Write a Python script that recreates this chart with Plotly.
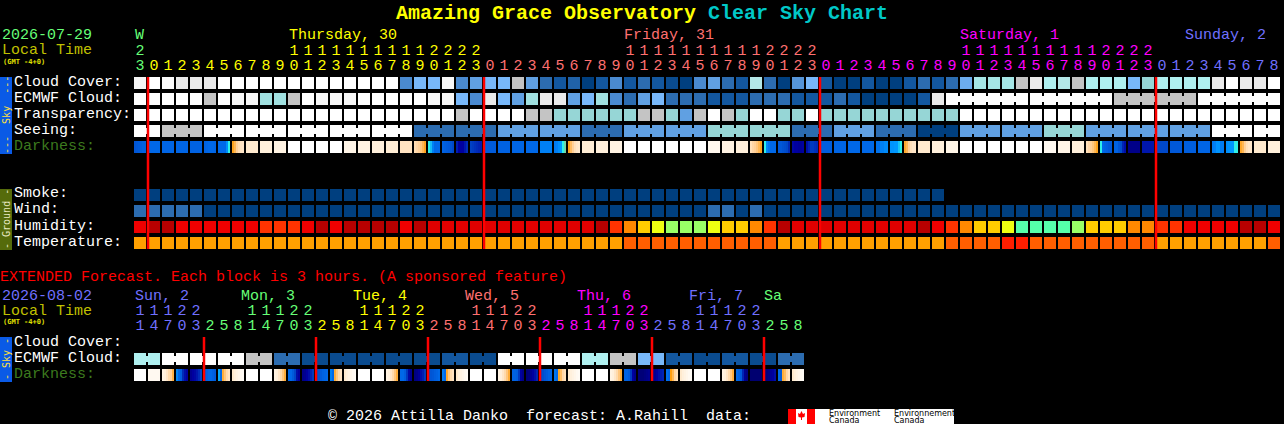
import plotly.graph_objects as go

W, H = 1284, 424

# levels: 0 = darkest blue ... 10 = white
CLOUD_COLORS = ["#003F7F", "#13579F", "#2C6CB0", "#4A8AD0", "#60A0E2", "#78B8FA",
                "#96D6D6", "#AFF0F0", "#C4C4C4", "#EAEAEA", "#FFFFFF"]
HUM_COLORS = ["#B80000", "#E00000", "#F00000", "#FF3300", "#FF8800", "#FFCC00",
              "#EEFF11", "#99FF66", "#55FFAA"]
TEMP_COLORS = ["#FFA000", "#FF5E00", "#FF1E00"]
DARK_STOPS = ["#000050", "#0000A0", "#0048C8", "#0068E8", "#0098FF", "#30F0E8",
              "#FF9E10", "#FFD098", "#FFF0DC", "#FFFFFF"]

cloud = [9.5, 10, 9.8, 9, 9, 9, 10, 10, 10, 10, 10, 10, 10, 10, 10, 10, 10, 10, 10, 3, 5,
         5, 9.6, 3, 4, 5, 5, 8, 4, 2, 1, 1.5, 0, 1, 3, 1, 2, 1, 0.5, 0, 3, 4, 2, 1, 7.2, 2, 0, 3.5, 5,
         1, 0, 0, 1, 0, 0, 1, 2, 1, 2, 4.5, 6.6, 6.6, 6.6, 8, 9, 7, 7.2, 8, 7, 7, 7, 5, 6, 7, 7, 7, 7,
         9, 10, 9, 9, 10]
ecmwf = [10, 10, 10, 10, 10, 8, 10, 9.6, 9.6, 6.4, 6.4, 8, 10, 9.6, 9.6, 9.6, 10, 10, 10, 10, 10,
         9.6, 9.6, 5, 3, 9, 5, 4, 6.4, 9, 9, 4, 5, 6.4, 3, 2, 4, 5, 2, 2, 2, 1, 1, 1, 2, 2, 2, 1, 1, 1,
         2, 1, 0, 0, 0, 0, 1, 9, 10, 10, 10, 10, 10, 10, 10, 10, 10, 10, 10, 10, 8, 8, 8, 8, 8, 8,
         10, 10, 10, 10, 10, 10]
transparency = [10] * 23 + [8, 10, 10, 10, 10, 8, 8, 6, 6, 6, 6, 6, 6, 8, 8, 6, 4, 8, 10, 8, 6, 10, 10,
                            6, 6, 10, 6, 6, 6, 6, 6, 6, 6, 6, 6, 6] + [10] * 23
seeing = [10, 10, 8, 8, 8, 10, 10, 10, 10, 10, 10, 10, 10, 10, 10, 10, 10, 10, 10, 10,
          2, 2, 2, 2, 2, 2, 4, 4, 4, 4, 4, 4, 2, 2, 2, 4, 4, 4, 4, 4, 4, 6, 6, 6, 6, 6, 6, 2, 2, 2,
          4, 4, 4, 2, 2, 2, 0, 0, 0, 4, 4, 4, 4, 4, 4, 6, 6, 6, 4, 4, 4, 4, 4, 4, 4, 4, 4,
          10, 10, 10, 10, 10]

# a number is a flat block, a tuple is the colour run across one block
darkness = [(2.4, 2.5, 2.6, 2.7, 2.8, 2.8), 3, 2.9, 2.9, 2.8, (2.8, 2.9, 3, 3, 3, 2.9),
            (3, 3, 3, 3, 3.8, 5), (6.1, 6.5, 7, 7.4, 7.6, 7.7), 7.8, 8, 8.2, 9, 9, 9, 9, 8.3, 8.2, 8, 7.9, 7.6,
            (7.4, 7.2, 7, 6.8, 6.5, 6.1), (5, 4.4, 3.5, 3, 3, 3),
            (2.8, 2.7, 2.6, 2.5, 2.3, 2), (1.4, 1, 1, 1, 1.3, 1.6), (1.9, 1.8, 1.7, 1.6, 1.5, 1.4),
            2.6, 2.8, 2.9, 3, 3.5, (3.4, 3.5, 3.8, 4, 5, 5.3), (6.1, 6.6, 7, 7.5, 7.7, 7.8),
            7.9, 8, 8.2, 9, 9, 9, 9, 9, 9, 8.5, 8.2, 8, (7.5, 7.2, 7, 6.8, 6.5, 6.1),
            (5, 3.6, 3.2, 3, 3, 3), (2.5, 2.5, 2.3, 2.2, 2, 1.6), (1.1, 1, 1, 0.9, 0.9, 1),
            (1.2, 1.5, 1.8, 1.8, 1.7, 1.6), 2.7, 2.9, 3, 3, (3.2, 3.2, 3.5, 3.5, 3.7, 3.7),
            (3.9, 3.9, 4, 4, 4.5, 5), (6.2, 6.5, 7, 7.5, 7.7, 7.7), 7.8, 8, 8.3, 9, 9, 9, 9, 9, 9,
            8.6, 8.3, 8, (7.5, 7.2, 7, 6.8, 6.5, 6.1), (5, 3, 2.8, 2.7, 2.5, 2.5),
            (2.8, 2.8, 2.4, 2.2, 1.5, 1.2), 0.7, 1.3, 2, 2.5, 2.7, 2.9,
            (3.4, 3.5, 3.9, 3.9, 3.4, 3.4), (3.8, 3.9, 4, 4, 5, 5), (6.2, 6.5, 7, 7.5, 7.7, 7.7), 7.8, 8]

smoke = [0] * 58 + [None] * 24
wind = [2, 2, 2, 2, 2] + [0] * 36 + [2, 2, 0, 2] + [0] * 37
humidity = [2, 0, 0, 2, 2, 2, 2, 2, 2, 3, 3, 3, 2, 0, 2, 0, 0, 0, 0, 2, 0, 1,
            1, 1, 1, 1, 1, 1, 1, 1, 1, 1, 1, 0, 3, 4, 5, 6, 7, 7, 7, 6, 5, 5, 4, 3, 0, 1, 1, 1, 1, 1,
            1, 1, 1, 1, 0, 2, 3, 4, 5, 5, 6, 8, 8, 8, 8, 7, 5, 5, 5, 4, 4, 3, 3, 2, 2, 2, 2, 0, 0, 2]
temperature = [0] * 35 + [1] * 11 + [0] * 12 + [1] * 4 + [2, 2] + [1] * 9 + [0] * 8 + [1]

# extended forecast, one value per 6 hour pair
ext_ecmwf = [7, 10, 10, 10, 8, 2, 0.5, 0.5, 0.5, 0.5, 0.5, 1, 0.5, 10, 10, 10, 7, 8, 5, 1, 0.5, 1, 0.5, 2]
ext_darkness = [9, 8.6, (8.2, 8, 7.7, 7.3, 7, 6.4), (3.6, 3, 2.7, 1.6, 1.2, 1), (0.8, 1, 1.1, 1.3, 1.6, 2),
                (2.5, 2.8, 3, 3, 2.8, 2.6), (4.2, 3, 6.3, 6.8, 7.3, 7.6), (7.8, 8, 8.2, 8.4, 8.6, 8.7),
                9, 9, (8.2, 8, 7.7, 7.3, 6.8, 6.3), (3, 3, 2.6, 2, 1.2, 1), (0.7, 0.8, 1, 1.2, 1.5, 1.8),
                (2.2, 2.4, 2.6, 2.8, 2.9, 3), (3.5, 3, 6.3, 6.8, 7.3, 7.6), (7.8, 8, 8.2, 8.4, 8.6, 8.7),
                9, 9, (8.2, 8, 7.7, 7.3, 6.8, 6.3), (3, 3, 2.7, 1.8, 1.1, 0.8), (0.6, 0.7, 0.9, 1.2, 1.4, 1.8),
                (2.2, 2.4, 2.5, 2.7, 2.8, 3), (3.4, 3, 6.2, 6.8, 7.3, 7.6), (7.8, 8, 8.2, 8.4, 8.6, 8.7),
                9, 9, (8.2, 8, 7.7, 7.3, 6.8, 6.3), (2.8, 2.8, 2.7, 1.8, 1, 0.7), (0.5, 0.6, 0.8, 1, 1.2, 1.5),
                (2, 2.2, 2.4, 2.6, 2.8, 2.9), (3.3, 3, 6.2, 6.6, 7.2, 7.5), (7.8, 8, 8.2, 8.4, 8.6, 8.7),
                9, 9, (8.2, 8, 7.7, 7.3, 6.8, 6.3), (2.8, 2.8, 2.6, 1.8, 1, 0.7), (0.5, 0.5, 0.5, 0.6, 0.7, 0.8),
                (0.7, 0.8, 1, 1.2, 1.4, 1.5), (3.2, 3, 6, 6.5, 7.2, 7.5), (7.8, 8, 8.2, 8.4, 8.6, 8.7),
                9, 9, (8.2, 8, 7.7, 7.3, 6.8, 6.3), (3, 2.8, 2.6, 1.5, 0.8, 0.6), 0.4, (0.5, 0.6, 0.7, 0.9, 1, 1.2),
                (3, 2.5, 6.3, 6.6, 7.2, 7.6), (7.8, 8, 8.2, 8.4, 8.6, 8.7)]

# hour ticks
GREEN, YELLOW, PINK, MAGENTA, BLUE = "#66FF77", "#FFFF00", "#FF7070", "#FF00FF", "#7070FF"
hours = [23] + list(range(24)) * 3 + list(range(9))
hour_colors = [GREEN] + [YELLOW] * 24 + [PINK] * 24 + [MAGENTA] * 24 + [BLUE] * 9
ext_hours = [11, 14, 17, 20, 23] + [2, 5, 8, 11, 14, 17, 20, 23] * 5 + [2, 5, 8]
ext_colors = [BLUE] * 5 + [GREEN] * 8 + [YELLOW] * 8 + [PINK] * 8 + [MAGENTA] * 8 + [BLUE] * 8 + [GREEN] * 3
midnights = [1, 25, 49, 73]
ext_midnights = [5, 13, 21, 29, 37, 45]

ROW_CLOUD, ROW_ECMWF, ROW_TRANS, ROW_SEEING, ROW_DARK = 0, 1, 2, 3, 4
ROW_SMOKE, ROW_WIND, ROW_HUM, ROW_TEMP = 7, 8, 9, 10
ROW_EXT_CLOUD, ROW_EXT_ECMWF, ROW_EXT_DARK = 16.25, 17.25, 18.25
MONO = "Liberation Mono"

cols = list(range(len(hours)))
ext_cols = list(range(len(ext_hours)))


def scale(colors):
    return [[i / (len(colors) - 1), c] for i, c in enumerate(colors)]


def blocks(x, y, z, colors, xgap=2, ygap=4):
    return go.Heatmap(x=x, y=y, z=z, colorscale=scale(colors), zmin=0, zmax=len(colors) - 1,
                      showscale=False, xgap=xgap, ygap=ygap, hoverinfo="skip")


def gradient(values, row):
    # 2px slices per block, the seventh slice is the gap between blocks
    xs, zs = [], []
    for i, v in enumerate(values):
        run = v if isinstance(v, tuple) else (v,) * 6
        for k in range(7):
            xs.append(i + (2 * k - 5) / 14)
            zs.append(run[k] if k < 6 else None)
    return go.Heatmap(x=xs, y=[row], z=[zs], colorscale=scale(DARK_STOPS), zmin=0, zmax=9,
                      showscale=False, ygap=4, hoverinfo="skip")


fig = go.Figure()
fig.add_trace(blocks(cols, [ROW_CLOUD, ROW_ECMWF, ROW_TRANS, ROW_SEEING],
                     [cloud, ecmwf, transparency, seeing], CLOUD_COLORS))
fig.add_trace(blocks(cols, [ROW_SMOKE, ROW_WIND], [smoke, wind], CLOUD_COLORS))
fig.add_trace(blocks(cols, [ROW_HUM], [humidity], HUM_COLORS))
fig.add_trace(blocks(cols, [ROW_TEMP], [temperature], TEMP_COLORS))
fig.add_trace(gradient(darkness, ROW_DARK))

# the 3 hourly rows are joined by a short bridge over the gap
see_join = [seeing[i] if (i - 1) % 3 != 0 else None for i in cols[:-1]]
ec_join = [ecmwf[i] if i >= 58 and (i - 57) % 6 != 0 else None for i in cols[:-1]]
join_x = [c + 0.5 for c in cols[:-1]]
fig.add_trace(blocks(join_x, [ROW_SEEING], [see_join], CLOUD_COLORS, xgap=12, ygap=10))
fig.add_trace(blocks(join_x, [ROW_ECMWF], [ec_join], CLOUD_COLORS, xgap=12, ygap=10))

ext_row = [v for v in ext_ecmwf for _ in (0, 1)]
fig.add_trace(blocks(ext_cols, [ROW_EXT_ECMWF], [ext_row], CLOUD_COLORS))
ext_join = [ext_row[i] if i % 2 == 0 else None for i in ext_cols[:-1]]
fig.add_trace(blocks([c + 0.5 for c in ext_cols[:-1]], [ROW_EXT_ECMWF], [ext_join], CLOUD_COLORS, xgap=12, ygap=10))
fig.add_trace(gradient(ext_darkness, ROW_EXT_DARK))


def add_lines(where, top, bottom):
    xs, ys = [], []
    for c in where:
        xs += [c - 3 / 7, c - 3 / 7, None]
        ys += [top, bottom, None]
    fig.add_trace(go.Scatter(x=xs, y=ys, mode="lines", line=dict(color="#FF0000", width=2.5), hoverinfo="skip"))


add_lines(midnights, ROW_CLOUD - 0.375, ROW_TEMP + 0.375)
add_lines(ext_midnights, ROW_EXT_CLOUD - 0.375, ROW_EXT_DARK + 0.375)


def digits(x, y, text, colors):
    fig.add_trace(go.Scatter(x=x, y=y, text=text, mode="text", textposition="middle center",
                             textfont=dict(family=MONO, size=15, color=colors), hoverinfo="skip"))


ones_y, tens_y = -1.07, -2.0
digits(cols, [ones_y] * len(cols), [str(h % 10) for h in hours], hour_colors)
digits(cols, [tens_y] * len(cols), [str(h // 10) if h >= 10 else "" for h in hours], hour_colors)
ext_ones_y, ext_tens_y = 15.18, 14.25
digits(ext_cols, [ext_ones_y] * len(ext_cols), [str(h % 10) for h in ext_hours], ext_colors)
digits(ext_cols, [ext_tens_y] * len(ext_cols), [str(h // 10) if h >= 10 else "" for h in ext_hours], ext_colors)


def label(px, py, text, color="#FFFFFF", size=15, bold=False, family=MONO, angle=0, anchor="left"):
    if bold:
        text = f"<b>{text}</b>"
    fig.add_annotation(xref="paper", yref="paper", x=px / W, y=1 - py / H, text=text, showarrow=False,
                       xanchor=anchor, yanchor="middle", textangle=angle, borderpad=0, borderwidth=0,
                       font=dict(family=family, size=size, color=color))


def box(x0, y0, x1, y1, color):
    fig.add_shape(type="rect", xref="paper", yref="paper", x0=x0 / W, x1=x1 / W, y0=1 - y0 / H, y1=1 - y1 / H,
                  fillcolor=color, line_width=0, layer="below")


label(396, 13, "Amazing Grace Observatory", YELLOW, 20, True)
label(708, 13, "Clear Sky Chart", "#00C8C8", 20, True)

label(2, 36, "2026-07-29", GREEN)
label(2, 51, "Local Time", "#C0C000")
label(3, 62, "(GMT -4+0)", "#E0E000", 7, True, "DejaVu Sans Mono")
label(135, 36, "W", GREEN)
label(289, 36, "Thursday, 30", YELLOW)
label(624, 36, "Friday, 31", PINK)
label(960, 36, "Saturday, 1", MAGENTA)
label(1185, 36, "Sunday, 2", BLUE)

for row, text, color in [(82, "Cloud Cover:", "#FFFFFF"), (98, "ECMWF Cloud:", "#FFFFFF"),
                         (114, "Transparency:", "#FFFFFF"), (130, "Seeing:", "#FFFFFF"),
                         (146, "Darkness:", "#3C7A1E"), (194, "Smoke:", "#FFFFFF"), (210, "Wind:", "#FFFFFF"),
                         (226, "Humidity:", "#FFFFFF"), (242, "Temperature:", "#FFFFFF"),
                         (342, "Cloud Cover:", "#FFFFFF"), (358, "ECMWF Cloud:", "#FFFFFF"),
                         (374, "Darkness:", "#3C7A1E")]:
    label(14, row, text, color)

box(0, 77, 12, 154, "#0A5AE6")
box(0, 189, 12, 250, "#556B0B")
box(0, 337, 12, 382, "#0A5AE6")
label(6, 115, "---  Sky  ---", "#FFE040", 10, False, "DejaVu Sans Mono", -90, "center")
label(6, 219, "- Ground -", "#E8E8C0", 10, False, "DejaVu Sans Mono", -90, "center")
label(6, 359, "- Sky -", "#FFE040", 10, False, "DejaVu Sans Mono", -90, "center")

label(0, 277, "EXTENDED Forecast. Each block is 3 hours. (A sponsored feature)", "#FF0000")
label(2, 296, "2026-08-02", BLUE)
label(2, 311, "Local Time", "#C0C000")
label(3, 322, "(GMT -4+0)", "#E0E000", 7, True, "DejaVu Sans Mono")
label(135, 296, "Sun, 2", BLUE)
label(241, 296, "Mon, 3", GREEN)
label(353, 296, "Tue, 4", YELLOW)
label(465, 296, "Wed, 5", PINK)
label(577, 296, "Thu, 6", MAGENTA)
label(689, 296, "Fri, 7", BLUE)
label(764, 296, "Sa", GREEN)

label(328, 416, "© 2026 Attilla Danko  forecast: A.Rahill  data:")

# Environment Canada logo
box(788, 409, 954, 424, "#FFFFFF")
box(788, 409, 796, 424, "#FF0000")
box(807, 409, 815, 424, "#FF0000")
leaf = [(801.5, 411), (803, 414), (805, 413), (804.5, 417), (802, 417.5), (802, 420), (801, 420),
        (801, 417.5), (798.5, 417), (798, 413), (800, 414)]
path = "M " + " L ".join(f"{x / W:.5f},{1 - y / H:.5f}" for x, y in leaf) + " Z"
fig.add_shape(type="path", xref="paper", yref="paper", path=path, fillcolor="#FF0000", line_width=0)
label(829, 413, "Environment", "#000000", 8, False, "DejaVu Sans")
label(829, 420, "Canada", "#000000", 8, False, "DejaVu Sans")
label(894, 413, "Environnement", "#000000", 8, False, "DejaVu Sans")
label(894, 420, "Canada", "#000000", 8, False, "DejaVu Sans")

fig.update_layout(
    width=W, height=H, showlegend=False,
    margin=dict(l=0, r=0, t=0, b=0, pad=0),
    paper_bgcolor="#000000", plot_bgcolor="#000000",
)
# column i is centred on pixel 140 + 14i, row r on pixel 83 + 16r
fig.update_xaxes(visible=False, range=[(0 - 140) / 14, (W - 140) / 14], fixedrange=True)
fig.update_yaxes(visible=False, range=[(H - 83) / 16, (0 - 83) / 16], fixedrange=True)

fig.write_html("out.html", config={"displayModeBar": False},
               post_script="document.body.style.margin='0';document.body.style.overflow='hidden';")
